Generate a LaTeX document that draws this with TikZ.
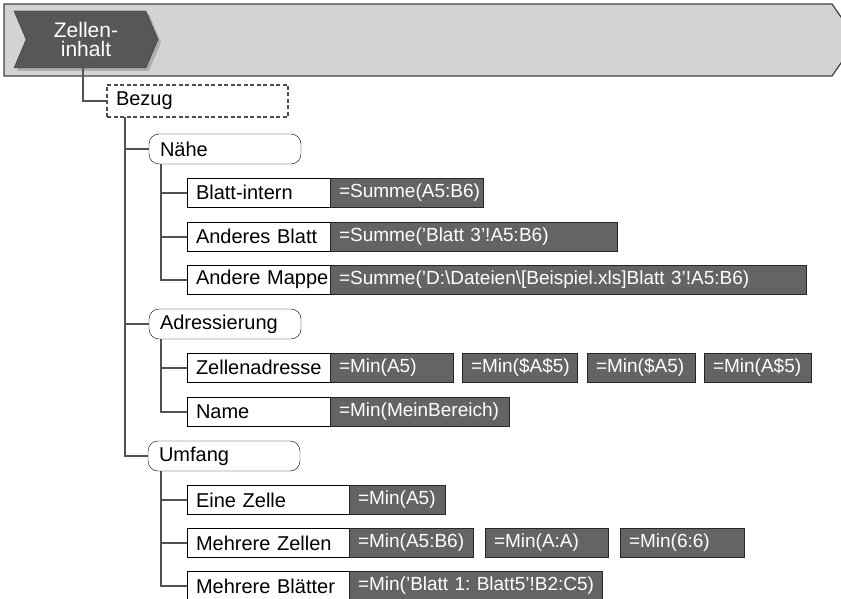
\documentclass[tikz,border=0pt]{standalone}
\usepackage{fontspec}
\setmainfont{Liberation Sans}
\usetikzlibrary{shapes.symbols,shadows}
\newcommand\labfont{\fontsize{20}{22}\selectfont}
\newcommand\fmlfont{\fontsize{19}{21}\selectfont}
\newcommand\chevfont{\fontsize{21}{19.5}\selectfont}
\definecolor{bannergray}{HTML}{D3D3D5}
\definecolor{chevgray}{HTML}{575757}
\definecolor{fmlgray}{HTML}{646464}
\begin{document}
\begin{tikzpicture}[
	x=1pt, y=-1pt,
	conn/.style={ draw=black!68, line width=2pt },
	chev/.style={ signal, signal from=west, signal to=east, signal pointer angle=134, draw=black!80, fill=chevgray, text=white, align=center, minimum width=144pt, minimum height=57pt, inner sep=0pt, font=\chevfont },
	group/.style={ draw=black!70, dash pattern=on 4pt off 2.5pt, line width=1.6pt, anchor=west, outer sep=0pt, minimum height=32pt, inner xsep=9pt, text width=163pt, align=left, font=\labfont },
	cat/.style={ draw, rounded corners=10pt, anchor=west, outer sep=0pt, minimum height=30pt, inner xsep=11pt, text width=130pt, align=left, font=\labfont },
	lbl/.style={ draw, fill=white, anchor=west, outer sep=0pt, minimum height=29pt, inner xsep=9pt, text width=#1, align=left, font=\labfont },
	fml/.style={ draw=black!85, fill=fmlgray, text=white, anchor=west, outer sep=0pt, minimum height=29pt, inner xsep=9pt, text width=#1, align=left, font=\fmlfont }
]
	\useasboundingbox (0,0) rectangle (841,599);
	\draw[fill=bannergray, draw=black!75, line width=1.2pt] (4,4) -- (832,4) -- (857,40) -- (832,76) -- (4,76) -- cycle;
	\node at (86,39.5) (inhalt) [chev, drop shadow={shadow xshift=3pt, shadow yshift=-3pt, opacity=.45}] {Zellen-\\inhalt};
	\node at (107,101) (bezug) [group] {Bezug};
	\draw[conn] ([xshift=-3pt]inhalt.south) |- (bezug.west);

	\node at (149,149) (naehe) [cat] {Nähe};
	\node at (149,324) (adr) [cat] {Adressierung};
	\node at (148,456) (umfang) [cat] {Umfang};
	\foreach \n in {naehe,adr,umfang}
		\draw[conn] ([xshift=18pt]bezug.south west) |- (\n.west);

	\node at (187,192.5) (intern) [lbl=125pt] {Blatt-intern};
	\node at (187,236.5) (anderes) [lbl=125pt] {Anderes~Blatt};
	\node at (187,279.5) (mappe) [lbl=125pt] {Andere~Mappe};
	\node at (intern.east) (f1) [fml=135pt] {=Summe(A5:B6)};
	\node at (anderes.east) (f2) [fml=269pt] {=Summe(’Blatt~3’!A5:B6)};
	\node at (mappe.east) (f3) [fml=458pt] {=Summe(’D:\textbackslash Dateien\textbackslash[Beispiel.xls]Blatt~3’!A5:B6)};
	\foreach \c in {intern,anderes,mappe}
		\draw[conn] ([xshift=12pt]naehe.south west) |- (\c.west);

	\node at (187,367.5) (zadr) [lbl=125pt] {Zellenadresse};
	\node at (187,411.5) (name) [lbl=125pt] {Name};
	\node at (zadr.east) (f4) [fml=105pt] {=Min(A5)};
	\node at (462,367.5) (f5) [fml=97pt] {=Min(\$A\$5)};
	\node at (587,367.5) (f6) [fml=90pt] {=Min(\$A5)};
	\node at (704,367.5) (f7) [fml=89pt] {=Min(A\$5)};
	\node at (name.east) (f8) [fml=161pt] {=Min(MeinBereich)};
	\foreach \c in {zadr,name}
		\draw[conn] ([xshift=12pt]adr.south west) |- (\c.west);

	\node at (187,500) (eine) [lbl=144pt] {Eine~Zelle};
	\node at (187,543) (zellen) [lbl=144pt] {Mehrere~Zellen};
	\node at (187,586) (blaetter) [lbl=144pt] {Mehrere~Blätter};
	\node at (eine.east) (f9) [fml=78pt] {=Min(A5)};
	\node at (zellen.east) (f10) [fml=106pt] {=Min(A5:B6)};
	\node at (485,543) (f11) [fml=105pt] {=Min(A:A)};
	\node at (620,543) (f12) [fml=106pt] {=Min(6:6)};
	\node at (blaetter.east) (f13) [fml=235pt] {=Min(’Blatt~1:~Blatt5’!B2:C5)};
	\foreach \c in {eine,zellen,blaetter}
		\draw[conn] ([xshift=13pt]umfang.south west) |- (\c.west);
\end{tikzpicture}
\end{document}
